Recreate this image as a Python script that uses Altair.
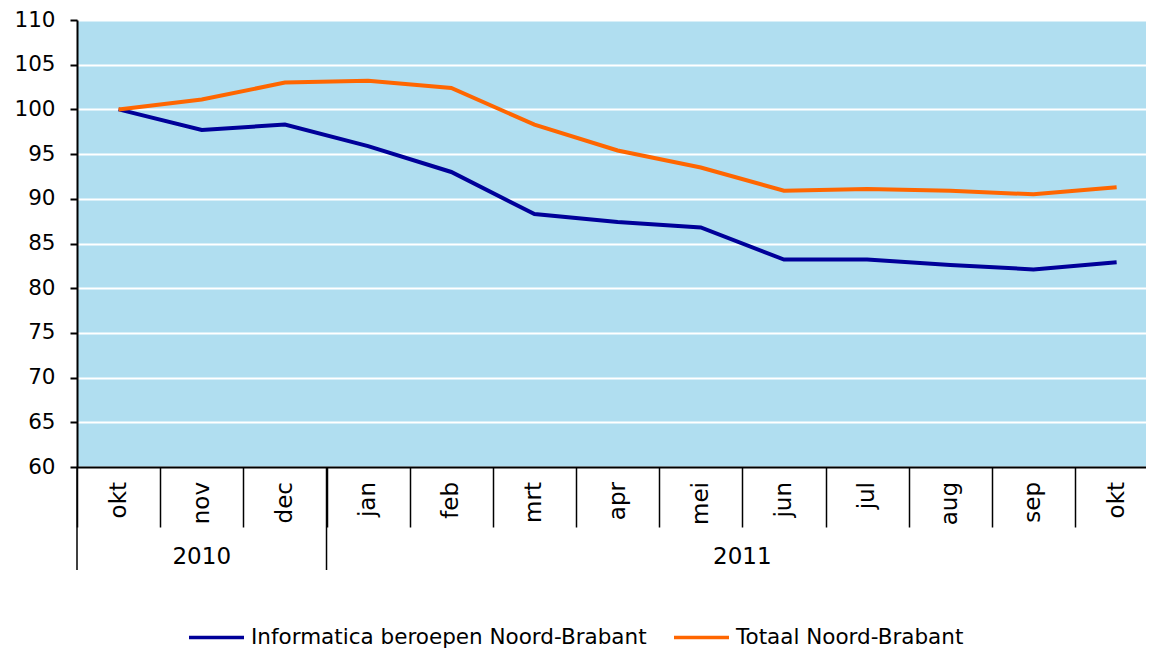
import altair as alt
import pandas as pd

months = ["okt", "nov", "dec", "jan", "feb", "mrt", "apr", "mei", "jun", "jul", "aug", "sep", "okt"]
informatica = [100.0, 97.7, 98.3, 95.9, 93.0, 88.3, 87.4, 86.8, 83.2, 83.2, 82.6, 82.1, 82.9]
totaal = [100.0, 101.1, 103.0, 103.2, 102.4, 98.3, 95.4, 93.5, 90.9, 91.1, 90.9, 90.5, 91.3]
series_names = ["Informatica beroepen Noord-Brabant", "Totaal Noord-Brabant"]
years = ["2010", "2011"]
year_first = [0, 3]   # index of first month of each year
year_last = [2, 12]   # index of last month of each year
y_ticks = [60, 65, 70, 75, 80, 85, 90, 95, 100, 105, 110]

FONT = "DejaVu Sans"
BLUE = "#000099"
ORANGE = "#FF6600"
BG = "#B0DEF0"

idx = list(range(len(months)))
rows = []
for i, v in zip(idx, informatica):
    rows.append({"idx": i, "series": series_names[0], "value": v})
for i, v in zip(idx, totaal):
    rows.append({"idx": i, "series": series_names[1], "value": v})
df = pd.DataFrame(rows)
df_months = pd.DataFrame({"idx": idx, "month": months})
df_years = pd.DataFrame({
    "year": years,
    "center": [(a + b) / 2 for a, b in zip(year_first, year_last)],
    "sep": [a - 0.5 for a in year_first],
})
boundaries = [i - 0.5 for i in range(len(months) + 1)]

xscale = alt.Scale(domain=[-0.5, 12.353], nice=False, zero=False)
yscale = alt.Scale(domain=[60, 110], nice=False, zero=False)

lines = alt.Chart(df).mark_line(strokeWidth=4).encode(
    x=alt.X("idx:Q", scale=xscale,
            axis=alt.Axis(values=boundaries, labels=False, grid=False, title=None,
                          tickSize=60, tickColor="black", tickWidth=1.5,
                          domainColor="black", domainWidth=2)),
    y=alt.Y("value:Q", scale=yscale,
            axis=alt.Axis(values=y_ticks, title=None, grid=True, gridColor="white",
                          gridWidth=2, gridOpacity=1, tickSize=7, tickColor="black",
                          tickWidth=2, domainColor="black", domainWidth=2,
                          labelFontSize=21.5, labelColor="black", labelFont=FONT,
                          labelPadding=15)),
    color=alt.Color("series:N",
                    scale=alt.Scale(domain=series_names, range=[BLUE, ORANGE]),
                    legend=alt.Legend(orient="none", legendX=110, legendY=588,
                                      direction="horizontal", title=None,
                                      symbolType="stroke", symbolSize=3025,
                                      symbolStrokeWidth=3.5, labelFontSize=21.5,
                                      labelFont=FONT, labelColor="black",
                                      labelLimit=800,
                                      labelOffset=5, columnPadding=20, padding=0)),
)

month_text = alt.Chart(df_months).mark_text(
    angle=270, align="right", baseline="middle", fontSize=23, font=FONT, color="black"
).encode(
    x=alt.X("idx:Q", scale=xscale),
    y=alt.value(462),
    text="month:N",
)

year_text = alt.Chart(df_years).mark_text(
    align="center", baseline="middle", fontSize=23, font=FONT, color="black"
).encode(
    x=alt.X("center:Q", scale=xscale),
    y=alt.value(537),
    text="year:N",
)

year_sep = alt.Chart(df_years).mark_rule(color="black", strokeWidth=1.5).encode(
    x=alt.X("sep:Q", scale=xscale),
    y=alt.value(447),
    y2=alt.value(550),
)

chart = alt.layer(lines, month_text, year_text, year_sep).properties(
    width=1069,
    height=447,
    padding={"left": 69, "top": 12, "right": 0, "bottom": 186},
    autosize=alt.AutoSizeParams(type="none"),
).configure(
    font=FONT
).configure_view(
    fill=BG, strokeWidth=0
)

chart.save("out.html", embed_options={"renderer": "svg", "actions": False})
